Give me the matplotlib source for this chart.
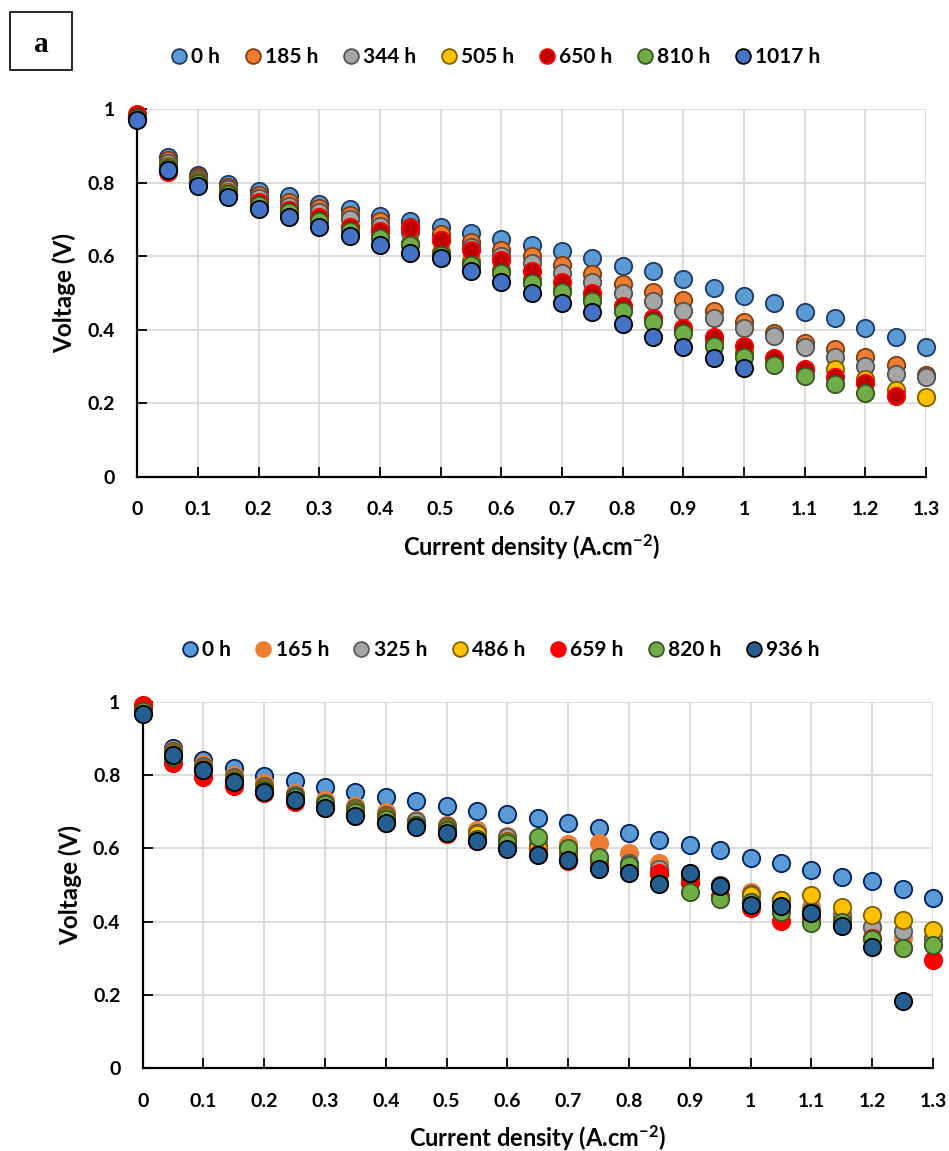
import matplotlib
matplotlib.use('Agg')
import matplotlib.pyplot as plt
from matplotlib.patches import Rectangle
from matplotlib.ticker import MultipleLocator, FuncFormatter

# --------------------------
# data
# --------------------------
current = [0, 0.05, 0.1, 0.15, 0.2, 0.25, 0.3, 0.35, 0.4, 0.45, 0.5, 0.55, 0.6, 0.65,
           0.7, 0.75, 0.8, 0.85, 0.9, 0.95, 1.0, 1.05, 1.1, 1.15, 1.2, 1.25, 1.3]

# panel a (top)
top_labels = ['0 h', '185 h', '344 h', '505 h', '650 h', '810 h', '1017 h']
top_0h = [0.975, 0.871, 0.822, 0.797, 0.777, 0.763, 0.742, 0.729, 0.710, 0.697, 0.680, 0.663, 0.648, 0.632,
          0.613, 0.595, 0.574, 0.559, 0.538, 0.513, 0.492, 0.474, 0.447, 0.433, 0.406, 0.380, 0.352]
top_185h = [0.980, 0.862, 0.815, 0.788, 0.767, 0.748, 0.730, 0.712, 0.695, 0.680, 0.660, 0.640, 0.617, 0.600,
            0.577, 0.551, 0.525, 0.502, 0.481, 0.450, 0.422, 0.392, 0.363, 0.347, 0.327, 0.304, 0.278]
top_344h = [0.980, 0.855, 0.810, 0.782, 0.758, 0.738, 0.720, 0.702, 0.682, 0.665, 0.645, 0.625, 0.602, 0.581,
            0.554, 0.529, 0.500, 0.479, 0.452, 0.431, 0.406, 0.382, 0.354, 0.327, 0.302, 0.280, 0.271]
top_505h = [0.980, 0.845, 0.805, 0.775, 0.745, 0.725, 0.702, 0.680, 0.657, 0.635, 0.612, 0.587, 0.562, 0.537,
            0.512, 0.486, 0.456, 0.426, 0.396, 0.366, 0.336, 0.310, 0.290, 0.293, 0.265, 0.236, 0.218]
top_650h = [0.988, 0.830, 0.800, 0.770, 0.748, 0.725, 0.706, 0.681, 0.668, 0.677, 0.645, 0.618, 0.589, 0.560,
            0.531, 0.500, 0.465, 0.431, 0.406, 0.380, 0.356, 0.324, 0.293, 0.271, 0.254, 0.220]
top_810h = [0.975, 0.840, 0.800, 0.770, 0.740, 0.720, 0.695, 0.670, 0.650, 0.630, 0.604, 0.577, 0.555, 0.527,
            0.504, 0.477, 0.450, 0.421, 0.390, 0.356, 0.327, 0.304, 0.274, 0.253, 0.227]
top_1017h = [0.970, 0.835, 0.790, 0.761, 0.729, 0.708, 0.680, 0.656, 0.631, 0.610, 0.595, 0.560, 0.529, 0.501,
             0.472, 0.447, 0.415, 0.380, 0.354, 0.323, 0.297]

# bottom panel
bot_labels = ['0 h', '165 h', '325 h', '486 h', '659 h', '820 h', '936 h']
bot_0h = [0.985, 0.875, 0.841, 0.818, 0.797, 0.784, 0.768, 0.754, 0.741, 0.730, 0.715, 0.702, 0.694, 0.683,
          0.668, 0.656, 0.641, 0.624, 0.609, 0.595, 0.575, 0.559, 0.541, 0.521, 0.511, 0.488, 0.464]
bot_165h = [0.980, 0.868, 0.830, 0.800, 0.778, 0.752, 0.732, 0.715, 0.700, 0.678, 0.665, 0.650, 0.635, 0.625,
            0.612, 0.614, 0.588, 0.561, 0.530, 0.500, 0.480, 0.460, 0.441, 0.420, 0.385, 0.355, 0.340]
bot_325h = [0.980, 0.865, 0.825, 0.795, 0.770, 0.745, 0.725, 0.710, 0.690, 0.675, 0.660, 0.642, 0.630, 0.610,
            0.590, 0.575, 0.560, 0.545, 0.520, 0.500, 0.475, 0.460, 0.430, 0.412, 0.385, 0.375, 0.356]
bot_486h = [0.980, 0.860, 0.820, 0.790, 0.765, 0.740, 0.720, 0.705, 0.685, 0.665, 0.655, 0.640, 0.620, 0.600,
            0.585, 0.565, 0.550, 0.530, 0.515, 0.495, 0.472, 0.459, 0.474, 0.441, 0.418, 0.404, 0.377]
bot_659h = [0.990, 0.833, 0.795, 0.770, 0.750, 0.727, 0.710, 0.690, 0.670, 0.660, 0.640, 0.620, 0.600, 0.585,
            0.565, 0.550, 0.545, 0.532, 0.505, 0.470, 0.436, 0.403, 0.410, 0.390, 0.356, 0.327, 0.295]
bot_820h = [0.975, 0.850, 0.815, 0.785, 0.760, 0.740, 0.720, 0.700, 0.680, 0.665, 0.650, 0.625, 0.615, 0.630,
            0.600, 0.577, 0.554, 0.506, 0.480, 0.462, 0.454, 0.427, 0.397, 0.400, 0.354, 0.327, 0.337]
bot_936h = [0.966, 0.854, 0.813, 0.782, 0.754, 0.733, 0.711, 0.689, 0.668, 0.657, 0.641, 0.620, 0.597, 0.582,
            0.568, 0.545, 0.534, 0.502, 0.532, 0.498, 0.445, 0.443, 0.424, 0.389, 0.332, 0.184]

# marker fill / edge colours
top_fill = ['#5B9BD5', '#ED7D31', '#A5A5A5', '#FFC000', '#C00000', '#70AD47', '#4472C4']
top_edge = ['#1F3864', '#843C0C', '#525252', '#7F6000', '#FF0000', '#375623', '#000000']
bot_fill = ['#5B9BD5', '#ED7D31', '#A5A5A5', '#FFC000', '#FF0000', '#70AD47', '#255E91']
bot_edge = ['#002060', '#ED7D31', '#595959', '#7F6000', '#FF0000', '#385723', '#000000']

# --------------------------
# style
# --------------------------
plt.rcParams['font.family'] = ['Lato', 'DejaVu Sans']
plt.rcParams['font.weight'] = 'bold'
plt.rcParams['mathtext.fontset'] = 'custom'
plt.rcParams['mathtext.bf'] = 'Lato:bold'
plt.rcParams['mathtext.rm'] = 'Lato:bold'
plt.rcParams['mathtext.default'] = 'bf'

W, H = 949, 1151
fig = plt.figure(figsize=(W / 100, H / 100), dpi=100)


def px_axes(left, top, right, bottom):
    return fig.add_axes([left / W, 1 - bottom / H, (right - left) / W, (bottom - top) / H])


def style_axes(ax):
    ax.set_xlim(0, 1.3)
    ax.set_ylim(0, 1)
    ax.xaxis.set_major_locator(MultipleLocator(0.1))
    ax.yaxis.set_major_locator(MultipleLocator(0.2))
    fmt = FuncFormatter(lambda v, p: f'{round(v, 2):g}')
    ax.xaxis.set_major_formatter(fmt)
    ax.yaxis.set_major_formatter(fmt)
    ax.grid(True, color='#D9D9D9', linewidth=1.3, zorder=0)
    ax.set_axisbelow(True)
    for s in ['top', 'right']:
        ax.spines[s].set_visible(False)
    for s in ['left', 'bottom']:
        ax.spines[s].set_linewidth(1.6)
        ax.spines[s].set_zorder(1)
    ax.tick_params(direction='in', length=7, width=1.3, labelsize=14)
    ax.tick_params(axis='x', pad=17.5)
    ax.tick_params(axis='y', pad=16)
    for lab in ax.get_xticklabels() + ax.get_yticklabels():
        lab.set_fontweight('bold')
    ax.set_xlabel('Current density (A.cm$^{-2}$)', fontsize=17, fontweight='bold', labelpad=10)
    ax.set_ylabel('Voltage (V)', fontsize=17.5, fontweight='bold', labelpad=8)


def draw_series(ax, series, labels, fills, edges):
    handles = []
    for y, lab, fc, ec in zip(series, labels, fills, edges):
        h, = ax.plot(current[:len(y)], y, ls='none', marker='o', ms=12.5,
                     mfc=fc, mec=ec, mew=1.3, label=lab, clip_on=False, zorder=3)
        handles.append(h)
    return handles


legend_kw = dict(loc='center', ncol=7, frameon=False, markerscale=0.85, handlelength=0.9,
                 handletextpad=0.15, columnspacing=1.1, prop={'weight': 'bold', 'size': 15})

# top panel
ax1 = px_axes(137.3, 109.3, 926, 476.7)
style_axes(ax1)
h1 = draw_series(ax1, [top_0h, top_185h, top_344h, top_505h, top_650h, top_810h, top_1017h],
                 top_labels, top_fill, top_edge)
fig.legend(handles=h1, bbox_to_anchor=(495 / W, 1 - 57 / H), **legend_kw)

# bottom panel
ax2 = px_axes(142.7, 701.7, 933, 1068.3)
style_axes(ax2)
h2 = draw_series(ax2, [bot_0h, bot_165h, bot_325h, bot_486h, bot_659h, bot_820h, bot_936h],
                 bot_labels, bot_fill, bot_edge)
fig.legend(handles=h2, bbox_to_anchor=(500 / W, 1 - 650 / H), **legend_kw)

# panel letter box
fig.patches.append(Rectangle((10 / W, 1 - 70 / H), 62 / W, 58 / H, transform=fig.transFigure,
                             fill=False, edgecolor='black', linewidth=1.2))
fig.text(41 / W, 1 - 45 / H, 'a', ha='center', va='center', fontsize=21, fontweight='bold',
         family='Liberation Serif')

fig.savefig('out.png', dpi=100)
